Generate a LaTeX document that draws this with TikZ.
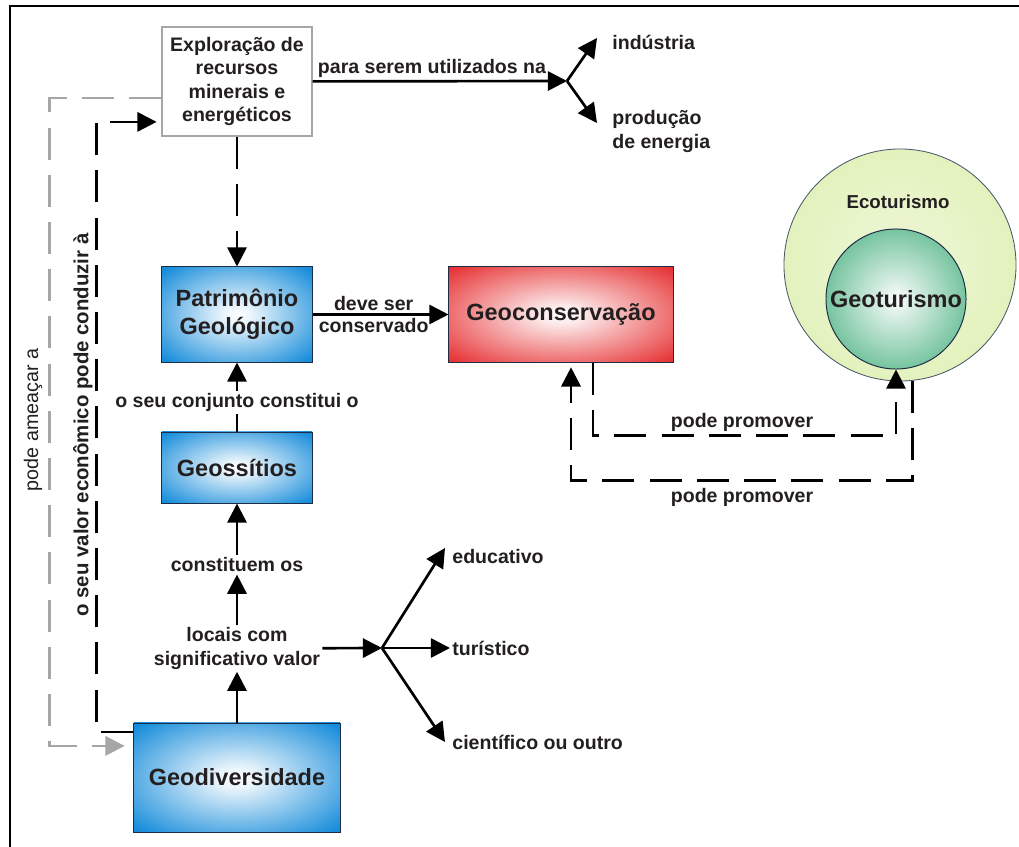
\documentclass[tikz,border=0pt]{standalone}
\usepackage{fontspec}
\setmainfont{Liberation Sans}
\usetikzlibrary{arrows.meta,calc}

\definecolor{geoblue}{RGB}{22,140,218}
\definecolor{geored}{RGB}{228,28,30}
\definecolor{ecogreen}{RGB}{214,236,160}
\definecolor{geogreen}{RGB}{40,162,104}
\definecolor{txt}{RGB}{35,31,32}
\definecolor{boxline}{RGB}{30,45,70}

\pgfdeclareradialshading{blueshade}{\pgfpoint{0bp}{0bp}}{color(0bp)=(white); color(5bp)=(geoblue!10!white); color(34bp)=(geoblue); color(100bp)=(geoblue)}
\pgfdeclareradialshading{redshade}{\pgfpoint{0bp}{0bp}}{color(0bp)=(white); color(5bp)=(geored!10!white); color(38bp)=(geored); color(100bp)=(geored)}
\pgfdeclareradialshading{ecoshade}{\pgfpoint{0bp}{0bp}}{color(0bp)=(ecogreen!40!white); color(50bp)=(ecogreen); color(100bp)=(ecogreen)}
\pgfdeclareradialshading{turshade}{\pgfpoint{0bp}{0bp}}{color(0bp)=(white); color(5bp)=(geogreen!15!white); color(40bp)=(geogreen); color(100bp)=(geogreen)}

\begin{document}
\begin{tikzpicture}[x=0.025cm,y=-0.025cm,
    lbl/.style={font=\fontsize{13.9}{16.6}\selectfont\bfseries,text=txt,align=center,inner sep=1.5pt},
    big/.style={font=\fontsize{16.7}{20}\selectfont\bfseries,text=txt,align=center,draw=boxline,line width=0.7pt,inner sep=0pt},
    bluebox/.style={big,shading=blueshade,minimum width=3.75cm},
    arr/.style={line width=1.9pt,-{Triangle[length=0.48cm,width=0.48cm]}},
    dashline/.style={line width=1.9pt,dash pattern=on 0.8cm off 0.38cm},
  ]
  \useasboundingbox (0,0) rectangle (1019,847);
  \draw[line width=2pt] (10,847) -- (10,6) -- (1019,6);

  % boxes
  \node[lbl,draw=gray!70,fill=white,line width=0.8pt,minimum width=3.75cm,minimum height=2.725cm,inner sep=0pt] (expl) at (237,81.5) {Exploração de\\recursos\\minerais e\\energéticos};
  \node[bluebox,minimum height=2.375cm] (patr) at (237,314.5) {Patrimônio\\Geológico};
  \node[bluebox,minimum height=1.775cm] (geoss) at (237,467.5) {Geossítios};
  \node[bluebox,minimum width=5.15cm,minimum height=2.725cm] (geodiv) at (237,777.5) {Geodiversidade};
  \node[big,shading=redshade,minimum width=5.6cm,minimum height=2.375cm] (geocons) at (561,314.5) {Geoconservação};
  \node[circle,draw=boxline!80,line width=0.6pt,shading=ecoshade,minimum size=5.8cm] (eco) at (900,265) {};
  \node[lbl,font=\fontsize{13.3}{16}\selectfont\bfseries] (ecot) at (898,202) {Ecoturismo};
  \node[big,circle,shading=turshade,minimum size=3.5cm] (geotur) at (896,299) {Geoturismo};

  % top branch
  \node[lbl] (para) at (432,68) {para serem utilizados na};
  \node[lbl,anchor=west] (ind) at (610,42) {indústria};
  \node[lbl,anchor=west,align=left] (prod) at (610,131.5) {produção\\de energia};
  \coordinate (j1) at (567,81);
  \coordinate (i1) at (597,38);
  \coordinate (p1) at (597,123);
  \draw[arr] (expl) -- (j1);
  \draw[arr] (j1) -- (i1);
  \draw[arr] (j1) -- (p1);

  % main column
  \draw[dashline,arr] (expl) -- (patr);
  \node[lbl] (conj) at (237,402) {o seu conjunto constitui o};
  \draw[line width=1.9pt] (geoss) -- (conj);
  \draw[arr] (conj) -- (patr);
  \node[lbl] (const) at (237,565) {constituem os};
  \draw[arr] (const) -- (geoss);
  \node[lbl] (locais) at (237,648.5) {locais com\\significativo valor};
  \draw[arr] (locais) -- (const);
  \draw[arr] (geodiv) -- (locais);

  % value branch
  \coordinate (j2) at (382,648);
  \coordinate (e1) at (445,548);
  \coordinate (c1) at (445,742);
  \node[lbl,anchor=west] (educ) at (450,557) {educativo};
  \node[lbl,anchor=west] (tur) at (450,648) {turístico};
  \node[lbl,anchor=west] (cient) at (450,742) {científico ou outro};
  \draw[arr] (locais) -- (j2);
  \draw[arr] (j2) -- (e1);
  \draw[arr] (j2) -- (tur);
  \draw[arr] (j2) -- (c1);

  \draw[arr] (patr) -- (geocons)
    node[lbl,above,pos=0.45] (deve) {deve ser}
    node[lbl,below,pos=0.45] (cons) {conservado};

  % left loops
  \node[lbl,rotate=90,font=\fontsize{14}{16}\selectfont] (ameaca) at (33,420) {pode ameaçar a};
  \node[lbl,rotate=90,font=\fontsize{14.5}{16}\selectfont\bfseries] (valor) at (83,425) {o seu valor econômico pode conduzir à};
  \draw[dashline,gray!70,-{Triangle[length=0.48cm,width=0.48cm]},shorten >=0.22cm]
    ([yshift=-0.41cm]expl.west) -- ++(-112,0) |- ([yshift=0.79cm]geodiv.west);
  \draw[dashline,arr,shorten >=0.12cm]
    ([yshift=1.14cm]geodiv.west) -- ++(-37,0) |- ([yshift=-1.01cm]expl.west);

  % tourism loops
  \node[lbl] (prom1) at (742,422) {pode promover};
  \node[lbl] (prom2) at (742,497) {pode promover};
  \draw[dashline,arr] ([xshift=0.8cm]geocons.south) -- ++(0,73) -| (geotur);
  \draw[dashline,arr,shorten >=0.12cm] (eco.-84) -- ++(0,100) -| ([xshift=0.25cm]geocons.south);
\end{tikzpicture}
\end{document}
